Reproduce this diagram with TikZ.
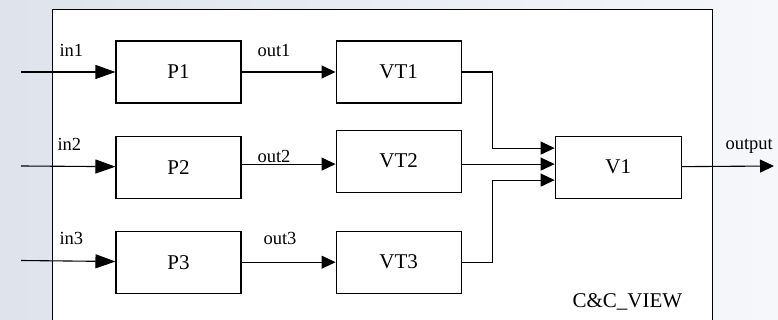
\documentclass[tikz,border=0pt]{standalone}
\usepackage{fontspec}
\setmainfont{Liberation Serif}
\usetikzlibrary{positioning, calc, arrows.meta}

\definecolor{bgblue}{RGB}{222,227,236}
\definecolor{bglight}{RGB}{246,247,250}

\begin{document}
\begin{tikzpicture}[
	x=1pt, y=1pt,
	line width=1.1pt,
	% Block styles
	blk/.style={draw, fill=white, minimum width=125pt, minimum height=62pt, inner sep=0pt, font=\fontsize{21}{24}\selectfont},
	view/.style={draw, fill=white, anchor=north west, minimum width=660pt, minimum height=340pt},
	% Signal styles
	sig-in/.style={-{Triangle[length=20pt, width=14pt]}},
	sig/.style={-{Triangle[length=14pt, width=13pt]}},
	% Text styles
	port label/.style={anchor=base west, inner sep=0pt, font=\fontsize{18.5}{21}\selectfont},
	view label/.style={anchor=base west, inner sep=0pt, font=\fontsize{21}{24}\selectfont}
	]
	
	% ==============================================================================
	% BACKGROUND AND C&C VIEW FRAME
	% ==============================================================================
	\clip (0,0) rectangle (778,320);
	\shade[left color=bgblue, right color=bglight, draw=none] (0,0) rectangle (778,320);
	\node[view] (CCV) at (52,311) {};
	\node[view label] (CCVlbl) at (572,12) {C\&C\_VIEW};
	
	% ==============================================================================
	% BLOCKS
	% ==============================================================================
	\node[blk] (P1) at (178.5,248) {P1};
	\node[blk, below=32pt of P1] (P2) {P2};
	\node[blk, below=32pt of P2] (P3) {P3};
	
	\node[blk, right=94pt of P1] (VT1) {VT1};
	\node[blk, right=94pt of P2, yshift=6pt] (VT2) {VT2};
	\node[blk, right=94pt of P3] (VT3) {VT3};
	
	\node[blk, minimum width=126pt, right=93pt of VT2, yshift=-6pt] (V1) {V1};
	
	% ==============================================================================
	% SIGNALS
	% ==============================================================================
	\coordinate (src1) at (21,248);
	\coordinate (src2) at (21,154);
	\coordinate (src3) at (21,59.5);
	\coordinate (dst) at (774,154);
	
	\draw[sig-in] (src1) -- (P1);
	\draw[sig-in] (src2) -- (P2);
	\draw[sig-in] (src3) -- (P3);
	
	\draw[sig] (P1) -- (VT1);
	\draw[sig] ([yshift=3pt]P2.east) -- ([yshift=-3pt]VT2.west);
	\draw[sig] (P3) -- (VT3);
	
	\draw[sig] (VT1.east) -- ++(31pt,0) |- ([yshift=19pt]V1.west);
	\draw[sig] ([yshift=-3pt]VT2.east) -- ([yshift=3pt]V1.west);
	\draw[sig] (VT3.east) -- ++(31pt,0) |- ([yshift=-13pt]V1.west);
	
	\draw[sig] (V1) -- (dst);
	
	% port labels
	\node[port label] (lin1) at (59,263) {in1};
	\node[port label] (lin2) at (57,169) {in2};
	\node[port label] (lin3) at (59,75) {in3};
	\node[port label] (lout1) at (257,263) {out1};
	\node[port label] (lout2) at (257,157) {out2};
	\node[port label] (lout3) at (263,75) {out3};
	\node[port label] (lout) at (725,170) {output};
	
\end{tikzpicture}
\end{document}
